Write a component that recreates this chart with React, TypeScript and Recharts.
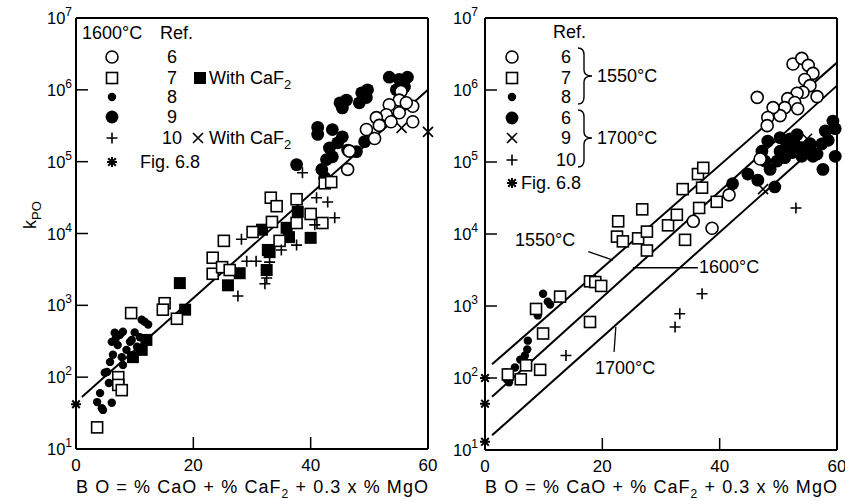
import { ScatterChart, Scatter, XAxis, YAxis, ReferenceLine } from 'recharts';

const FONT = '"Liberation Sans", Arial, sans-serif';

const X_TICKS = [0, 20, 40, 60];
const Y_TICKS = [10, 100, 1000, 10000, 100000, 1000000, 10000000];

// left panel, 1600 C
const L_REF6 = [
  [55.4, 950000], [55.1, 720000], [53.4, 620000], [57.4, 590000], [52.9, 450000], [55.1, 480000],
  [51.2, 410000], [53.7, 360000], [57.4, 360000], [49.5, 280000], [50.9, 210000], [46.6, 140000],
  [46.3, 78000], [51.7, 320000], [56.3, 660000],
];
const L_REF7 = [
  [3.6, 20], [7.2, 100], [7.2, 78], [7.8, 66], [9.4, 780], [15.1, 1070], [14.8, 870], [17.2, 650],
  [23.3, 2750], [25.2, 7900], [23.3, 4600], [24.9, 3400], [26.2, 3100], [30.1, 10500], [33.2, 31500],
  [34.2, 24000], [33.4, 14500], [37.6, 30000], [37.6, 14000], [40.0, 18700], [34.7, 7900], [42.0, 14000],
  [42.4, 50000], [43.5, 52000],
];
const L_REF7_CAF2 = [
  [17.7, 2040], [18.6, 870], [25.9, 1900], [27.9, 2800], [32.5, 3100], [33.0, 5500], [11.2, 240],
  [9.7, 190], [32.7, 5900], [35.9, 12000], [36.3, 8900], [37.8, 20000], [40.0, 8700], [31.7, 11300],
  [12.0, 330],
];
const L_REF8 = [
  [4.1, 60], [3.6, 45], [4.4, 37], [6.1, 44], [4.9, 115], [5.6, 83], [5.8, 163], [6.3, 205], [6.1, 310],
  [6.6, 415], [7.5, 390], [8.0, 430], [7.1, 280], [9.2, 310], [7.8, 190], [8.0, 148], [10.4, 265],
  [10.9, 360], [11.7, 590], [12.3, 540], [11.2, 630], [11.4, 255], [9.5, 330], [5.3, 118], [4.6, 35],
  [6.8, 350], [8.6, 240], [10.0, 420],
];
const L_REF9 = [
  [37.6, 91000], [41.9, 78000], [41.2, 300000], [41.2, 240000], [43.7, 280000], [43.2, 155000],
  [44.6, 183000], [45.4, 222000], [43.7, 117000], [46.3, 145000], [42.7, 107000], [47.8, 138000],
  [49.2, 190000], [45.0, 660000], [46.1, 720000], [45.4, 560000], [48.7, 910000], [49.7, 1000000],
  [49.5, 780000], [53.4, 1500000], [55.1, 1400000], [56.5, 1500000], [56.0, 1100000], [54.6, 1000000],
  [48.3, 660000], [42.4, 60000],
];
const L_REF10 = [
  [27.6, 1350], [29.1, 4100], [30.7, 4100], [33.0, 4000], [32.5, 2400], [32.2, 2000], [35.0, 5900],
  [37.6, 6900], [28.2, 8300], [41.0, 31500], [42.9, 27500], [40.7, 13200], [44.1, 16600], [38.6, 70000],
];
const L_REF10_CAF2 = [[55.5, 295000], [60, 260000]];
const L_FIG68 = [[0, 42]];
const L_FIT = [[1.0, 53], [60, 1000000]];

// right panel, 1550 C and 1700 C
const R_REF6_1550 = [
  [46.4, 790000], [52.5, 2300000], [54.0, 2750000], [55.1, 2200000], [55.9, 1700000], [54.5, 1400000],
  [55.4, 1150000], [54.2, 930000], [53.2, 900000], [51.6, 760000], [52.8, 670000], [51.1, 570000],
  [53.3, 550000], [50.3, 440000], [49.1, 570000], [48.2, 415000], [48.1, 320000], [56.6, 810000],
  [46.9, 110000], [41.6, 35000], [38.7, 12000], [35.5, 15000],
];
const R_REF7_1550 = [
  [3.9, 112], [6.1, 96], [7.0, 150], [9.4, 130], [9.9, 415], [8.7, 910], [12.8, 1350], [17.9, 2200],
  [18.8, 2150], [19.8, 1900], [17.9, 600], [22.5, 9200], [23.5, 7900], [22.7, 15000], [26.8, 22000],
  [26.1, 8700], [27.6, 10800], [27.6, 5900], [31.2, 13200], [32.7, 18500], [34.1, 8300], [33.7, 42000],
  [36.5, 23000], [36.3, 68000], [37.2, 83000], [37.0, 44000], [39.5, 28000],
];
const R_REF8_1550 = [
  [9.9, 1480], [10.7, 1150], [11.1, 1050], [9.0, 740], [7.3, 330], [7.2, 250], [6.8, 205], [6.0, 180],
  [5.1, 140], [3.6, 120], [3.7, 96], [4.1, 87],
];
const R_REF6_1700 = [
  [42.2, 50000], [44.8, 68000], [46.5, 56000], [49.4, 45000], [48.6, 79000], [47.2, 141000],
  [48.2, 195000], [50.3, 218000], [52.0, 210000], [50.3, 141000], [51.1, 115000], [49.8, 103000],
  [52.3, 135000], [54.0, 158000], [55.4, 141000], [56.6, 129000], [57.4, 178000], [58.0, 270000],
  [59.3, 370000], [59.7, 290000], [59.7, 120000], [57.6, 79000], [55.4, 180000], [52.8, 178000],
  [54.0, 120000], [55.9, 120000], [51.4, 180000], [47.7, 103000], [53.2, 240000], [58.5, 200000],
];
const R_REF9_1700 = [[54.9, 210000], [47.4, 42000]];
const R_REF10_1700 = [[13.8, 205], [37.0, 1480], [33.2, 780], [32.4, 510], [53.0, 23000]];
const R_FIG68 = [[0, 100], [0, 44], [0, 13]];
const R_FIT_1550 = [[1.2, 155], [60, 2400000]];
const R_FIT_1600 = [[1.2, 55], [60, 1150000]];
const R_FIT_1700 = [[1.2, 16], [60, 300000]];
const LEADER_1550 = [[17.6, 5700], [21.8, 4350]];
const LEADER_1600 = [[25.2, 3400], [36.3, 3400]];
const LEADER_1700 = [[22.3, 510], [22.0, 230]];

const pts = (a: number[][]) => a.map(([x, y]) => ({ x, y }));
const seg = (a: number[][]) => a.map(([x, y]) => ({ x, y })) as any;

const OpenCircle = ({ cx, cy }: any) => <circle cx={cx} cy={cy} r={6} fill="#fff" stroke="#000" strokeWidth={1.6} />;
const OpenSquare = ({ cx, cy }: any) => <rect x={cx - 5.5} y={cy - 5.5} width={11} height={11} fill="#fff" stroke="#000" strokeWidth={1.6} />;
const FilledSquare = ({ cx, cy }: any) => <rect x={cx - 6} y={cy - 6} width={12} height={12} fill="#000" />;
const SmallDot = ({ cx, cy }: any) => <circle cx={cx} cy={cy} r={4.2} fill="#000" />;
const BigDot = ({ cx, cy }: any) => <circle cx={cx} cy={cy} r={6.4} fill="#000" />;
const Plus = ({ cx, cy }: any) => (
  <path d={`M${cx - 5.5},${cy}H${cx + 5.5}M${cx},${cy - 5.5}V${cy + 5.5}`} stroke="#000" strokeWidth={1.6} />
);
const Cross = ({ cx, cy }: any) => (
  <path d={`M${cx - 5},${cy - 5}L${cx + 5},${cy + 5}M${cx - 5},${cy + 5}L${cx + 5},${cy - 5}`} stroke="#000" strokeWidth={1.6} />
);
const Star = ({ cx, cy }: any) => (
  <path
    d={`M${cx - 5},${cy}H${cx + 5}M${cx},${cy - 5}V${cy + 5}M${cx - 3.8},${cy - 3.8}L${cx + 3.8},${cy + 3.8}M${cx - 3.8},${cy + 3.8}L${cx + 3.8},${cy - 3.8}`}
    stroke="#000"
    strokeWidth={2}
  />
);

const YTick = ({ x, y, payload, gap }: any) => {
  const n = Math.round(Math.log10(payload.value));
  return (
    <g>
      <line x1={x} x2={x + 12} y1={y} y2={y} stroke="#000" strokeWidth={1.5} />
      <text x={x - gap} y={y + 6} textAnchor="end" fontSize={16.5} fontFamily={FONT} fill="#000">
        10<tspan dy={-8} fontSize={12}>{n}</tspan>
      </text>
    </g>
  );
};

const XTick = ({ x, y, payload }: any) => (
  <g>
    <line x1={x} x2={x} y1={y} y2={y - 12} stroke="#000" strokeWidth={1.5} />
    <text x={x} y={y + 22} textAnchor="middle" fontSize={17} fontFamily={FONT} fill="#000">
      {payload.value}
    </text>
  </g>
);

const lineStyle = { stroke: '#000', strokeWidth: 2 };

function Panel({ width, yAxisW, xAxisH, right, gap, children }: any) {
  return (
    <ScatterChart width={width} height={501} margin={{ top: 18, right, bottom: 0, left: 0 }}>
      <XAxis
        type="number"
        dataKey="x"
        domain={[0, 60]}
        ticks={X_TICKS}
        interval={0}
        height={xAxisH}
        tickSize={0}
        tickMargin={0}
        tickLine={false}
        axisLine={lineStyle}
        tick={<XTick />}
      />
      <YAxis
        type="number"
        dataKey="y"
        scale="log"
        domain={[10, 10000000]}
        allowDataOverflow
        ticks={Y_TICKS}
        interval={0}
        width={yAxisW}
        tickSize={0}
        tickMargin={0}
        tickLine={false}
        axisLine={lineStyle}
        tick={<YTick gap={gap} />}
      />
      <ReferenceLine y={10000000} {...lineStyle} />
      <ReferenceLine x={60} {...lineStyle} />
      {children}
    </ScatterChart>
  );
}

const S = (data: number[][], shape: any, key: string) => (
  <Scatter key={key} data={pts(data)} shape={shape} isAnimationActive={false} />
);

function Overlay() {
  const t = { fontFamily: FONT, fontSize: 18, fill: '#000' } as any;
  const brace = (x0: number, y0: number, y1: number, ym: number) => {
    const xm = x0 + 6;
    const xt = x0 + 14;
    return `M${x0},${y0} Q${xm},${y0} ${xm},${y0 + 7} L${xm},${ym - 6} Q${xm},${ym} ${xt},${ym} Q${xm},${ym} ${xm},${ym + 6} L${xm},${y1 - 7} Q${xm},${y1} ${x0},${y1}`;
  };
  const rows = [57, 78, 97, 117, 138, 162];
  const rRows = [57, 78, 97, 118, 138, 160, 183];
  const syms = [OpenCircle, OpenSquare, SmallDot, BigDot, Plus, Star];
  const rSyms = [OpenCircle, OpenSquare, SmallDot, BigDot, Cross, Plus, Star];
  const xLabel = (cx: number) => (
    <text x={cx} y={493} textAnchor="middle" {...t} fontSize={18} textLength={352} lengthAdjust="spacing">
      B O = % CaO + % CaF<tspan dy={5} fontSize={12}>2</tspan>
      <tspan dy={-5}> + 0.3 x % MgO</tspan>
    </text>
  );
  return (
    <svg width={845} height={501} style={{ position: 'absolute', left: 0, top: 0, pointerEvents: 'none' }}>
      {/* left legend */}
      <text x={82} y={39} {...t}>1600°C</text>
      <text x={160} y={39} {...t}>Ref.</text>
      {syms.map((C, i) => <C key={i} cx={112} cy={rows[i]} />)}
      {['6', '7', '8', '9', '10'].map((s, i) => (
        <text key={s} x={172} y={rows[i] + 6} textAnchor="middle" {...t}>{s}</text>
      ))}
      <text x={140} y={168} {...t}>Fig. 6.8</text>
      <FilledSquare cx={200} cy={78} />
      <text x={209} y={84} {...t}>With CaF<tspan dy={5} fontSize={13}>2</tspan></text>
      <Cross cx={198} cy={138} />
      <text x={209} y={144} {...t}>With CaF<tspan dy={5} fontSize={13}>2</tspan></text>

      {/* right legend */}
      <text x={553} y={38} {...t}>Ref.</text>
      {rSyms.map((C, i) => <C key={i} cx={512} cy={rRows[i]} />)}
      {['6', '7', '8', '6', '9', '10'].map((s, i) => (
        <text key={i} x={566} y={rRows[i] + 6} textAnchor="middle" {...t}>{s}</text>
      ))}
      <text x={521} y={189} {...t}>Fig. 6.8</text>
      <path d={brace(578, 48, 104, 76)} fill="none" stroke="#000" strokeWidth={1.4} />
      <path d={brace(578, 110, 167, 138)} fill="none" stroke="#000" strokeWidth={1.4} />
      <text x={597} y={82} {...t}>1550°C</text>
      <text x={597} y={144} {...t}>1700°C</text>

      {/* line labels */}
      <text x={515} y={246} {...t}>1550°C</text>
      <text x={699} y={273} {...t}>1600°C</text>
      <text x={595} y={374} {...t}>1700°C</text>

      {/* axis titles */}
      <text transform="translate(36,215) rotate(-90)" {...t} textAnchor="middle">
        k<tspan dy={5} fontSize={13}>PO</tspan>
      </text>
      {xLabel(252)}
      {xLabel(661)}
    </svg>
  );
}

export default function App() {
  return (
    <div style={{ position: 'absolute', left: 0, top: 0, width: 845, height: 501, background: '#fff', overflow: 'hidden' }}>
      <div style={{ position: 'absolute', left: 0, top: 0 }}>
        <Panel width={440} yAxisW={76} xAxisH={52} right={12} gap={4}>
          <ReferenceLine segment={seg(L_FIT)} {...lineStyle} />
          {S(L_REF8, SmallDot, 'a')}
          {S(L_REF9, BigDot, 'b')}
          {S(L_REF7_CAF2, FilledSquare, 'c')}
          {S(L_REF7, OpenSquare, 'd')}
          {S(L_REF6, OpenCircle, 'e')}
          {S(L_REF10, Plus, 'f')}
          {S(L_REF10_CAF2, Cross, 'g')}
          {S(L_FIG68, Star, 'h')}
        </Panel>
      </div>
      <div style={{ position: 'absolute', left: 440, top: 0 }}>
        <Panel width={405} yAxisW={45} xAxisH={51} right={8} gap={7}>
          <ReferenceLine segment={seg(R_FIT_1550)} {...lineStyle} />
          <ReferenceLine segment={seg(R_FIT_1600)} {...lineStyle} />
          <ReferenceLine segment={seg(R_FIT_1700)} {...lineStyle} />
          <ReferenceLine segment={seg(LEADER_1550)} stroke="#000" strokeWidth={1.3} />
          <ReferenceLine segment={seg(LEADER_1600)} stroke="#000" strokeWidth={1.3} />
          <ReferenceLine segment={seg(LEADER_1700)} stroke="#000" strokeWidth={1.3} />
          {S(R_REF8_1550, SmallDot, 'a')}
          {S(R_REF6_1700, BigDot, 'b')}
          {S(R_REF7_1550, OpenSquare, 'c')}
          {S(R_REF6_1550, OpenCircle, 'd')}
          {S(R_REF9_1700, Cross, 'e')}
          {S(R_REF10_1700, Plus, 'f')}
          {S(R_FIG68, Star, 'g')}
        </Panel>
      </div>
      <Overlay />
    </div>
  );
}
